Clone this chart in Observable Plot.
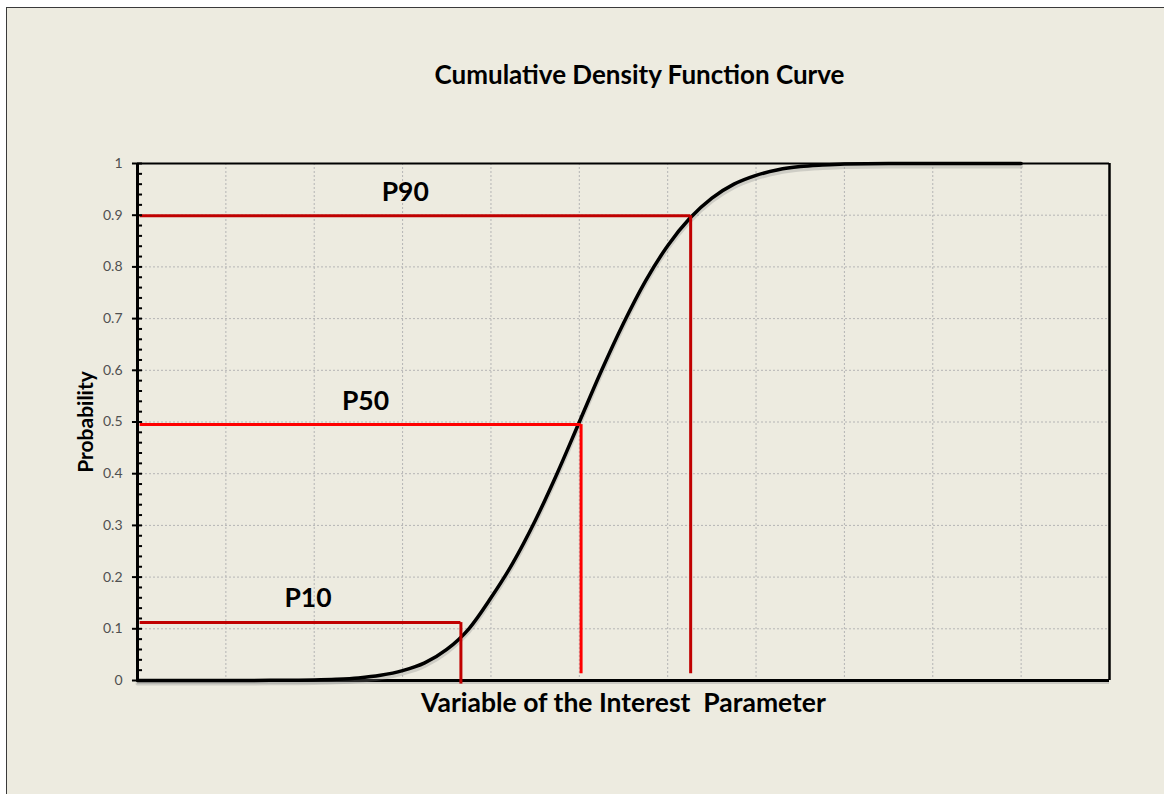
<!DOCTYPE html>
<html>
<head>
<meta charset="utf-8">
<script src="https://cdn.jsdelivr.net/npm/d3@7"></script>
<script src="https://cdn.jsdelivr.net/npm/@observablehq/plot@0.6"></script>
<style>
  html, body { margin: 0; padding: 0; background: #ffffff; width: 1164px; height: 794px; overflow: hidden; }
  #panel { position: absolute; left: 6px; top: 7px; width: 1200px; height: 820px; background: #EDEBE0; border: 1.5px solid #3a3a3a; }
  #chart { position: absolute; left: 0; top: 0; }
</style>
</head>
<body>
<div id="panel"></div>
<div id="chart"></div>
<script>
// Curve
const xValues = [0, 0.5, 1, 1.5, 2, 2.25, 2.5, 2.75, 3, 3.25, 3.5, 3.75, 4, 4.25, 4.5, 4.75, 5, 5.25, 5.5, 5.75, 6, 6.25, 6.5, 6.75, 7, 7.25, 7.5, 7.75, 8, 8.5, 9, 9.5, 10];
const probValues = [0, 0, 0, 0.0003, 0.0012, 0.0025, 0.005, 0.010, 0.019, 0.034, 0.060, 0.100, 0.160, 0.228, 0.309, 0.401, 0.500, 0.599, 0.691, 0.773, 0.841, 0.894, 0.933, 0.960, 0.977, 0.988, 0.994, 0.997, 0.999, 1, 1, 1, 1];

// Percentile markers
const markerNames = ["P10", "P50", "P90"];
const markerX = [3.66, 5.02, 6.26];
const markerY = [0.112, 0.495, 0.899];
const markerBottom = [-0.007, 0.013, 0.013];
const markerColors = ["#C00000", "#FF0000", "#C00000"];
const labelX = [1.93, 2.58, 3.03];
const labelY = [0.158, 0.54, 0.944];

// Axis ticks
const yTicks = [0, 0.1, 0.2, 0.3, 0.4, 0.5, 0.6, 0.7, 0.8, 0.9, 1];
const yTickLabels = ["0", "0.1", "0.2", "0.3", "0.4", "0.5", "0.6", "0.7", "0.8", "0.9", "1"];
const yMinor = d3.range(0, 51).map(i => i / 50).filter(v => Math.round(v * 50) % 5 !== 0);
const xGrid = [1, 2, 3, 4, 5, 6, 7, 8, 9, 10];
const yGrid = [0.1, 0.2, 0.3, 0.4, 0.5, 0.6, 0.7, 0.8, 0.9];

const curve = xValues.map((x, i) => ({x, p: probValues[i]}));
const markers = markerNames.map((name, i) => ({
  name, x: markerX[i], y: markerY[i], bottom: markerBottom[i], color: markerColors[i], lx: labelX[i], ly: labelY[i]
}));

const font = "Lato, 'Open Sans', sans-serif";
const tickHalf = 0.057;

const plot = Plot.plot({
  width: 1164,
  height: 794,
  marginLeft: 137,
  marginRight: 55,
  marginTop: 163,
  marginBottom: 114,
  style: {background: "transparent", fontFamily: font},
  x: {domain: [0, 11], axis: null},
  y: {domain: [0, 1], axis: null},
  marks: [
    Plot.ruleX(xGrid, {stroke: "#b5b5b5", strokeWidth: 1, strokeDasharray: "2,2"}),
    Plot.ruleY(yGrid, {stroke: "#b5b5b5", strokeWidth: 1, strokeDasharray: "2,2"}),
    // frame
    Plot.ruleY([1], {stroke: "#000", strokeWidth: 2}),
    Plot.ruleX([11], {stroke: "#000", strokeWidth: 2.5}),
    Plot.ruleY([0], {stroke: "#999", strokeWidth: 3, dy: 2, strokeOpacity: 0.4}),
    Plot.ruleY([0], {stroke: "#000", strokeWidth: 3}),
    // curve shadow and curve
    Plot.line(curve, {x: "x", y: "p", stroke: "#888", strokeWidth: 4, strokeOpacity: 0.3, dy: 3, curve: "monotone-x"}),
    Plot.line(curve, {x: "x", y: "p", stroke: "#000", strokeWidth: 3.5, curve: "monotone-x"}),
    // markers
    Plot.ruleY(markers, {y: "y", x1: 0.03, x2: "x", stroke: "color", strokeWidth: 3}),
    Plot.ruleX(markers, {x: "x", y1: "y", y2: "bottom", stroke: "color", strokeWidth: 3}),
    Plot.text(markers, {x: "lx", y: "ly", text: "name", fontSize: 26.5, fontWeight: "bold", fill: "#000", textAnchor: "middle", lineAnchor: "middle"}),
    // left axis
    Plot.ruleX([0], {stroke: "#000", strokeWidth: 3}),
    Plot.ruleY(yMinor, {y: d => d, x1: 0, x2: tickHalf, stroke: "#000", strokeWidth: 2}),
    Plot.ruleY(yTicks, {y: d => d, x1: -tickHalf, x2: tickHalf, stroke: "#000", strokeWidth: 2}),
    Plot.text(yTicks, {x: 0, y: d => d, text: (d, i) => yTickLabels[i], dx: -15, textAnchor: "end", lineAnchor: "middle", fontSize: 14, fill: "#505050"}),
    // titles
    Plot.text(["Cumulative Density Function Curve"], {frameAnchor: "top", dx: 16, dy: -88, textAnchor: "middle", lineAnchor: "middle", fontSize: 26, fontWeight: "bold", fill: "#000"}),
    Plot.text(["Variable of the Interest  Parameter"], {frameAnchor: "bottom", dy: 23, textAnchor: "middle", lineAnchor: "middle", fontSize: 26.5, fontWeight: "bold", fill: "#000", style: "white-space: pre"}),
    Plot.text(["Probability"], {frameAnchor: "left", dx: -51, rotate: -90, textAnchor: "middle", lineAnchor: "middle", fontSize: 21, fontWeight: "bold", fill: "#000"})
  ]
});
document.getElementById("chart").appendChild(plot);
</script>
</body>
</html>
